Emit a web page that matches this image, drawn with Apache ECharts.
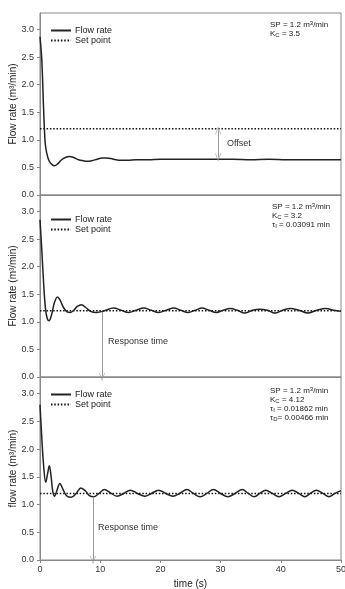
<!DOCTYPE html>
<html><head><meta charset="utf-8">
<script src="https://cdn.jsdelivr.net/npm/echarts@6/dist/echarts.min.js"></script>
<style>html,body{margin:0;padding:0;background:#fff}#c{width:345px;height:589px}</style>
</head><body><div id="c"></div>
<script>
// Panel 1: P control
const time1 = [0,0.3,0.6,0.85,1.1,1.5,2.0,2.4,2.9,3.5,4.2,4.9,5.6,6.4,7.2,7.8,8.6,9.5,10.3,11.0,11.8,12.6,13.4,14.5,16,18,20,23,26,29,32,35,38,41,44,47,50];
const flow1 = [2.87,2.45,1.55,0.96,0.77,0.62,0.55,0.53,0.56,0.63,0.68,0.70,0.68,0.64,0.62,0.61,0.62,0.65,0.67,0.67,0.66,0.64,0.63,0.63,0.64,0.64,0.65,0.65,0.65,0.65,0.65,0.64,0.65,0.64,0.64,0.64,0.64];
// Panel 2: PI control
const time2 = [0,0.3,0.6,0.9,1.2,1.5,1.9,2.4,2.9,3.4,3.9,4.5,5.0,5.6,6.2,6.9,7.6,8.4,9.4,10.7,12.2,13.5,14.7,16.0,17.2,18.5,19.7,21.0,22.2,23.4,24.6,25.8,26.9,28.1,29.3,30.4,31.6,32.8,34.0,35.3,36.5,37.8,39.0,40.3,41.6,43.0,44.5,46.0,47.5,48.8,50];
const flow2 = [2.85,2.3,1.7,1.25,1.06,1.02,1.12,1.35,1.45,1.38,1.26,1.18,1.17,1.21,1.28,1.31,1.26,1.19,1.17,1.20,1.25,1.21,1.17,1.21,1.25,1.21,1.17,1.21,1.25,1.21,1.17,1.21,1.25,1.21,1.17,1.21,1.24,1.21,1.16,1.21,1.23,1.21,1.16,1.21,1.24,1.21,1.16,1.21,1.24,1.21,1.19];
// Panel 3: PID control
const time3 = [0,0.3,0.6,0.95,1.25,1.55,1.85,2.1,2.4,2.8,3.3,3.8,4.4,5.2,6.0,6.8,7.6,8.2,8.9,9.8,10.7,11.7,12.8,13.9,15.0,16.2,17.4,18.5,19.7,20.9,22.1,23.2,24.4,25.5,26.6,27.7,28.8,30.0,31.2,32.4,33.6,34.6,35.6,36.5,37.5,38.6,39.7,40.8,41.9,43.0,44.0,44.9,45.9,47.0,48.0,49.0,50];
const flow3 = [2.8,2.2,1.7,1.4,1.55,1.70,1.5,1.25,1.15,1.25,1.38,1.28,1.16,1.13,1.20,1.30,1.24,1.16,1.14,1.20,1.27,1.21,1.15,1.20,1.26,1.20,1.15,1.20,1.26,1.20,1.15,1.20,1.27,1.20,1.14,1.20,1.27,1.20,1.14,1.20,1.27,1.20,1.14,1.20,1.26,1.20,1.14,1.20,1.26,1.20,1.14,1.20,1.26,1.20,1.14,1.20,1.25];
const setPoint = 1.2;
const xTicks = [0,10,20,30,40,50];
const yTicks = [0,0.5,1.0,1.5,2.0,2.5,3.0];
// annotations (data coords)
const offsetArrow = {t:29.6, from:1.17, to:0.68};
const resp2 = {t:10.3, from:1.18, to:0.0};
const resp3 = {t:8.8, from:1.14, to:0.0};

const chart = echarts.init(document.getElementById('c'));
const FONT = 'Liberation Sans, Arial, sans-serif';
const grids = [{top:13,height:182},{top:195,height:182},{top:377,height:183}].map(g=>({left:40,right:4,top:g.top,height:g.height,show:true,borderColor:'#888',borderWidth:1,containLabel:false,outerBoundsMode:'none'}));
const arrowSym = 'path://M0,0 L5,10 L4,10 L0,2 L-4,10 L-5,10 Z';

function xAx(i){
  const last = i===2;
  return {type:'value',gridIndex:i,min:xTicks[0],max:xTicks[xTicks.length-1],interval:10,
    axisLine:{show:true,lineStyle:{color:'#888'}},
    axisTick:{show:last,length:3,lineStyle:{color:'#888'}},
    axisLabel:{show:last,fontSize:9,color:'#333',fontFamily:FONT,margin:5},
    splitLine:{show:false},
    name: last?'time (s)':'', nameLocation:'middle', nameGap:19, nameMoveOverlap:false,
    nameTextStyle:{fontSize:10,color:'#222',fontFamily:FONT}};
}
function yAx(i){
  return {type:'value',gridIndex:i,min:0,max:3.3,interval:0.5,
    axisLine:{show:true,lineStyle:{color:'#888'}},
    axisTick:{show:true,length:3,lineStyle:{color:'#888'}},
    axisLabel:{fontSize:9,color:'#333',fontFamily:FONT,margin:6,showMaxLabel:false,
      formatter:v=>yTicks.indexOf(v)>=0?v.toFixed(1):''},
    splitLine:{show:false},
    name: i===2?'flow rate (m³/min)':'Flow rate (m³/min)', nameLocation:'middle', nameGap:22, nameMoveOverlap:false,
    nameTextStyle:{fontSize:10,color:'#222',fontFamily:FONT}};
}
function ml(a, both){
  return {silent:true,animation:false,symbol:[both?arrowSym:'none',arrowSym],symbolSize:[6,8],
    lineStyle:{color:'#999',type:'solid',width:1},label:{show:false},
    data:[[{coord:[a.t,a.from]},{coord:[a.t,a.to]}]]};
}
const flows=[[time1,flow1],[time2,flow2],[time3,flow3]];
const marks=[ml(offsetArrow,true),ml(resp2,false),ml(resp3,false)];
const series=[];
flows.forEach((f,i)=>{
  series.push({name:'Flow rate',type:'line',xAxisIndex:i,yAxisIndex:i,smooth:0.35,symbol:'none',
    data:f[0].map((t,k)=>[t,f[1][k]]),lineStyle:{color:'#222',width:1.5},itemStyle:{color:'#222'},
    markLine:marks[i],animation:false,z:3});
  series.push({name:'Set point',type:'line',xAxisIndex:i,yAxisIndex:i,symbol:'none',
    data:[[xTicks[0],setPoint],[xTicks[xTicks.length-1],setPoint]],
    lineStyle:{color:'#111',width:1.5,type:[1.5,1.8]},itemStyle:{color:'#111'},animation:false,z:2});
});
const legendTops=[21,210,385];
const legends=legendTops.map(t=>({left:45,top:t,orient:'vertical',itemWidth:20,itemHeight:8,itemGap:1,
  selectedMode:false,data:['Flow rate','Set point'],itemStyle:{opacity:0},
  textStyle:{fontSize:9,color:'#222',fontFamily:FONT,padding:[0,0,0,-1]}}));
const rich={t:{fontSize:8,color:'#222',fontFamily:FONT,lineHeight:9},
  sup:{fontSize:6,color:'#222',fontFamily:FONT,verticalAlign:'top',lineHeight:9},
  sub:{fontSize:6,color:'#222',fontFamily:FONT,verticalAlign:'bottom',lineHeight:9,padding:[3,0,0,0]}};
const sp='{t|SP = 1.2 m}{sup|3}{t|/min}';
function txt(x,y,s){return {type:'text',left:x,top:y,style:{text:s,rich:rich,fontFamily:FONT,fontSize:8,fill:'#222'}};}
chart.setOption({
  animation:false,
  grid:grids,
  xAxis:[0,1,2].map(xAx),
  yAxis:[0,1,2].map(yAx),
  legend:legends,
  series:series,
  graphic:[
    txt(270,20,sp+'\n{t|K}{sub|C}{t| = 3.5}'),
    txt(272,202,sp+'\n{t|K}{sub|C}{t| = 3.2}\n{t|τ}{sub|I}{t| = 0.03091 min}'),
    txt(270,386,sp+'\n{t|K}{sub|C}{t| = 4.12}\n{t|τ}{sub|I}{t| = 0.01862 min}\n{t|τ}{sub|D}{t|= 0.00466 min}'),
    {type:'text',left:227,top:139,style:{text:'Offset',fontSize:9,fill:'#333',fontFamily:FONT}},
    {type:'text',left:108,top:337,style:{text:'Response time',fontSize:9,fill:'#333',fontFamily:FONT}},
    {type:'text',left:98,top:523,style:{text:'Response time',fontSize:9,fill:'#333',fontFamily:FONT}}
  ]
});
</script></body></html>
